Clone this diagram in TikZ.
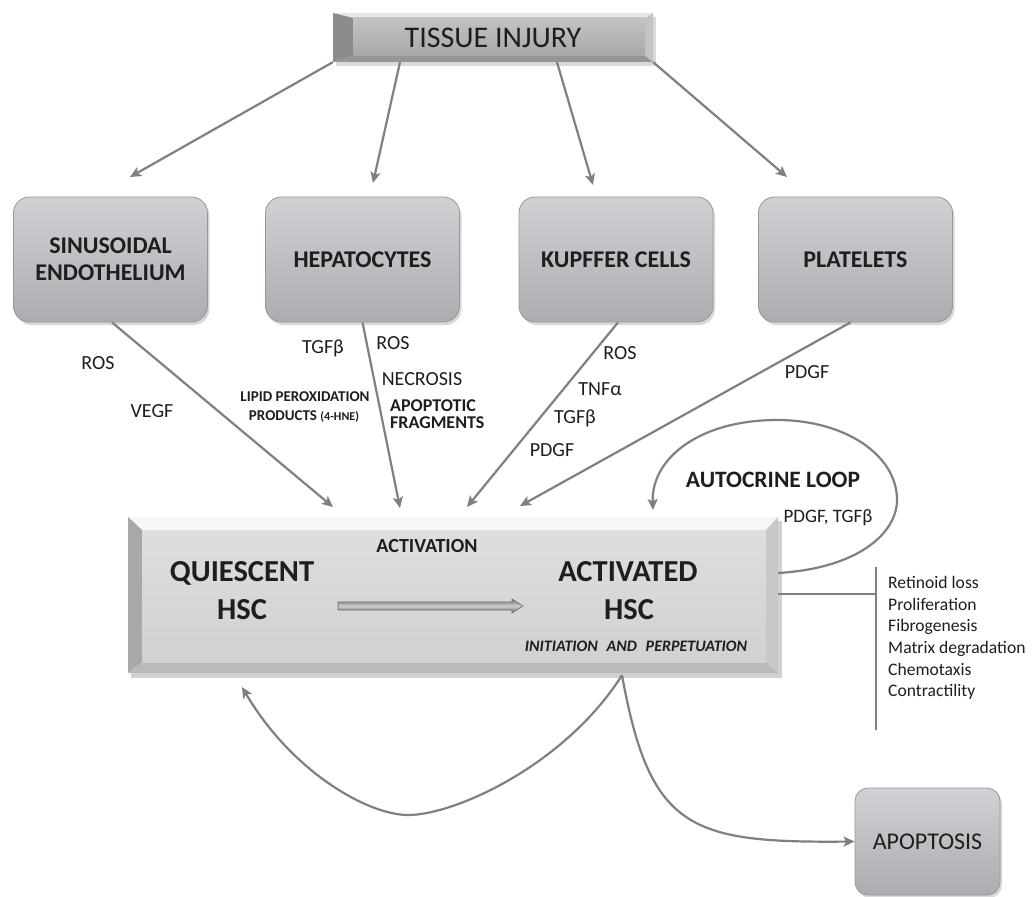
\documentclass[tikz,border=0pt]{standalone}
\usepackage{fontspec}
\setmainfont{Carlito}
\usetikzlibrary{arrows.meta,shadows,calc}
\definecolor{linecol}{RGB}{128,128,130}
\definecolor{txt}{RGB}{30,30,30}
\definecolor{boxtop}{RGB}{208,209,213}
\definecolor{boxbot}{RGB}{172,173,177}
\definecolor{boxedge}{RGB}{150,151,155}
\tikzset{
  conn/.style={draw=linecol, line width=2.2pt, -{Stealth[length=11pt,width=10pt,inset=2.5pt]}},
  plainline/.style={draw=linecol, line width=2.4pt},
  cellbox/.style={rectangle, rounded corners=16pt, minimum width=194pt, minimum height=125pt,
    top color=boxtop, bottom color=boxbot, draw=boxedge, line width=0.8pt,
    drop shadow={opacity=0.3, shadow xshift=2pt, shadow yshift=-3pt},
    inner sep=0pt, text=txt, align=center, font=\fontsize{24}{27}\selectfont\bfseries},
  lab/.style={anchor=base, inner sep=0pt, text=txt, font=\fontsize{20}{24}\selectfont},
  labb/.style={anchor=base, inner sep=0pt, text=txt, font=\fontsize{15}{20}\selectfont\bfseries},
  big/.style={anchor=base, inner sep=0pt, text=txt, font=\fontsize{30.5}{34}\selectfont\bfseries},
  listitem/.style={anchor=base west, inner sep=0pt, text=txt, font=\fontsize{17.6}{21}\selectfont},
}
\begin{document}
\begin{tikzpicture}[x=1pt,y=-1pt]
\useasboundingbox[fill=white] (0,0) rectangle (1032,896);

% ---------- TISSUE INJURY bevelled box ----------
\fill[black,opacity=0.15] (336,17) rectangle (656,66);
\fill[color={rgb,255:red,232;green,232;blue,232}] (333,13) -- (653,13) -- (645,18) -- (353,18) -- cycle;
\fill[color={rgb,255:red,140;green,140;blue,140}] (333,13) -- (353,18) -- (353,56) -- (333,62) -- cycle;
\fill[color={rgb,255:red,196;green,196;blue,196}] (653,13) -- (653,62) -- (645,56) -- (645,18) -- cycle;
\fill[color={rgb,255:red,150;green,150;blue,150}] (333,62) -- (653,62) -- (645,56) -- (353,56) -- cycle;
\shade[top color={rgb,255:red,195;green,195;blue,195}, bottom color={rgb,255:red,168;green,168;blue,168}] (353,18) rectangle (645,56);
\node[minimum width=320pt, minimum height=49pt, inner sep=0pt, text=txt,
      font=\fontsize{30}{34}\selectfont] (tissue) at (493,37.5) {TISSUE INJURY};

% ---------- four cell boxes ----------
\node[cellbox] (sinus) at (110.5,259.5) {SINUSOIDAL\\ENDOTHELIUM};
\node[cellbox] (hep) at (362.5,259.5) {HEPATOCYTES};
\node[cellbox] (kup) at (616,259.5) {KUPFFER CELLS};
\node[cellbox] (plat) at (855.5,259.5) {PLATELETS};

% ---------- main HSC bevelled box ----------
\fill[black,opacity=0.18] (131,521) rectangle (782,678);
\fill[color={rgb,255:red,246;green,246;blue,246}] (128,517) -- (778,517) -- (766,530) -- (142,530) -- cycle;
\fill[color={rgb,255:red,168;green,168;blue,168}] (128,517) -- (142,530) -- (142,662) -- (128,673) -- cycle;
\fill[color={rgb,255:red,200;green,200;blue,200}] (778,517) -- (778,673) -- (766,662) -- (766,530) -- cycle;
\fill[color={rgb,255:red,186;green,186;blue,186}] (128,673) -- (778,673) -- (766,662) -- (142,662) -- cycle;
\shade[top color={rgb,255:red,222;green,222;blue,222}, bottom color={rgb,255:red,209;green,209;blue,209}] (142,530) rectangle (766,662);
\node[minimum width=650pt, minimum height=156pt, inner sep=0pt] (hsc) at (453,595) {};

% ---------- APOPTOSIS box ----------
\node[cellbox, rounded corners=13pt, minimum width=145pt, minimum height=107pt,
      font=\fontsize{24}{28}\selectfont] (apop) at (927.5,841.5) {APOPTOSIS};

% ---------- connectors from TISSUE INJURY ----------
\coordinate (tA) at (130,177);
\coordinate (tB) at (373,183);
\coordinate (tC) at (593,185);
\coordinate (tD) at (787,177);
\draw[conn] (tissue.south west) -- (tA);
\draw[conn] ($(tissue.south)+(-93,0)$) -- (tB);
\draw[conn] ($(tissue.south)+(64,0)$) -- (tC);
\draw[conn] (tissue.south east) -- (tD);

% ---------- connectors into HSC ----------
\coordinate (hA) at (333,507);
\coordinate (hB) at (400,508);
\coordinate (hC) at (467,507);
\coordinate (hD) at (520,506);
\draw[conn] ($(sinus.south)+(1.5,0)$) -- (hA);
\draw[conn] (hep.south) -- (hB);
\draw[conn] ($(kup.south)+(2,0)$) -- (hC);
\draw[conn] ($(plat.south)+(-5,0)$) -- (hD);

% ---------- autocrine loop ----------
\coordinate (loopend) at (653,510);
\draw[conn] ($(hsc.east)+(0,-22)$) .. controls (860,568) and (897,532) .. (897,500)
   .. controls (897,455) and (845,420) .. (777,420)
   .. controls (700,420) and (651,458) .. (loopend);

% ---------- effects bracket ----------
\coordinate (brT) at (876,567);
\coordinate (brB) at (876,730);
\coordinate (brM) at (876,594);
\draw[plainline] ($(hsc.east)+(0,-1)$) -- (brM);
\draw[plainline] (brT) -- (brB);

% ---------- bottom curves ----------
\coordinate (hbot) at ($(hsc.south)+(169,2)$);
\coordinate (back) at (242,687);
\draw[conn] (hbot) .. controls (565,765) and (455,815) .. (408,815)
   .. controls (368,815) and (292,772) .. (back);
\draw[conn] (hbot) .. controls (650,830) and (690,843) .. (apop.west);

% ---------- activation arrow ----------
\shade[draw={rgb,255:red,110;green,110;blue,110}, line width=0.6pt,
  top color={rgb,255:red,115;green,115;blue,115},
  bottom color={rgb,255:red,105;green,105;blue,105},
  middle color={rgb,255:red,205;green,205;blue,205}]
  (338,602) -- (512,602) -- (512,599) -- (523,606) -- (512,613) -- (512,610) -- (338,610) -- cycle;

% ---------- labels ----------
\node[lab] (l1) at (98,369.3) {ROS};
\node[lab] (l2) at (152,417.7) {VEGF};
\node[lab] (l3) at (323,353.3) {TGFβ};
\node[lab] (l4) at (393,349.3) {ROS};
\node[lab] (l5) at (422,385.7) {NECROSIS};
\node[labb] (l6) at (305,401.7) {LIPID PEROXIDATION};
\node[labb] (l7) at (304,420) {PRODUCTS {\fontsize{12}{14}\selectfont (4-HNE)}};
\node[labb, anchor=base west, font=\fontsize{18}{20}\selectfont\bfseries] (l8) at (390,411) {APOPTOTIC};
\node[labb, anchor=base west, font=\fontsize{18}{20}\selectfont\bfseries] (l9) at (390,428.5) {FRAGMENTS};
\node[lab] (k1) at (620,359.3) {ROS};
\node[lab] (k2) at (600,395) {TNFα};
\node[lab] (k3) at (575,423.3) {TGFβ};
\node[lab] (k4) at (552,456) {PDGF};
\node[lab] (p1) at (807,378.3) {PDGF};
\node[labb, font=\fontsize{23.5}{28}\selectfont\bfseries] (a1) at (773,487.3) {AUTOCRINE LOOP};
\node[lab, font=\fontsize{19}{23}\selectfont] (a2) at (828,522.7) {PDGF, TGFβ};
\node[labb, font=\fontsize{20}{24}\selectfont\bfseries] (act) at (427,552.7) {ACTIVATION};
\node[big] (q1) at (242,581.7) {QUIESCENT};
\node[big] (q2) at (242,619.3) {HSC};
\node[big] (a3) at (628,581.7) {ACTIVATED};
\node[big] (a4) at (629,619.3) {HSC};
\node[labb, font=\fontsize{16}{20}\selectfont\bfseries\itshape] (ip) at (636,651.5)
  {INITIATION\hspace{0.55em}AND\hspace{0.55em}PERPETUATION};

\node[listitem] (r1) at (888,588.3) {Retinoid loss};
\node[listitem] (r2) at (888,610) {Proliferation};
\node[listitem] (r3) at (888,631.7) {Fibrogenesis};
\node[listitem] (r4) at (888,653.3) {Matrix degradation};
\node[listitem] (r5) at (888,675) {Chemotaxis};
\node[listitem] (r6) at (888,696.7) {Contractility};
\end{tikzpicture}
\end{document}
